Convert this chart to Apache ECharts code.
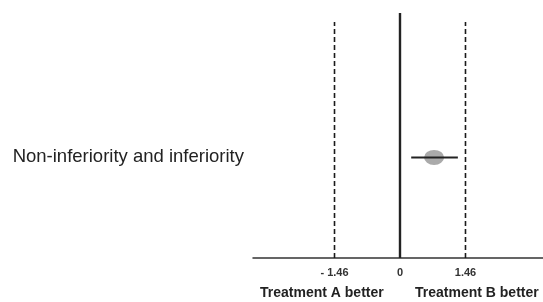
<!DOCTYPE html>
<html>
<head>
<meta charset="utf-8">
<script src="https://cdn.jsdelivr.net/npm/echarts@6/dist/echarts.min.js"></script>
<style>
  html, body { margin: 0; padding: 0; background: #fff; }
  #chart { width: 543px; height: 302px; }
</style>
</head>
<body>
<div id="chart"></div>
<script>
// comparison row
var rowName = "Non-inferiority and inferiority";
var rowY = 0.39;
var estimate = 0.76;
var ciLow = 0.25;
var ciHigh = 1.29;

// margins and ticks
var margins = [-1.46, 1.46];
var xTicks = [-1.46, 0, 1.46];
var sideLabels = ["Treatment A better", "Treatment B better"];

var chart = echarts.init(document.getElementById("chart"));

var marginSeries = margins.map(function (m) {
  return {
    type: "line",
    symbol: "none",
    silent: true,
    lineStyle: { color: "#1a1a1a", width: 1.6, type: [5, 3] },
    data: [[m, 0], [m, 0.915]]
  };
});

chart.setOption({
  animation: false,
  grid: { left: 253, right: 0, top: 0, bottom: 44 },
  xAxis: {
    type: "value",
    min: -3.277,
    max: 3.188,
    splitLine: { show: false },
    axisLine: { lineStyle: { color: "#333", width: 1.5 } },
    axisTick: { show: false },
    axisLabel: {
      customValues: xTicks,
      margin: 9,
      color: "#333",
      fontSize: 11,
      fontWeight: "bold",
      fontFamily: "Liberation Sans",
      formatter: function (v) {
        return v < 0 ? "- " + Math.abs(v).toFixed(2) : (v === 0 ? "0" : v.toFixed(2));
      }
    }
  },
  yAxis: {
    type: "value",
    min: 0,
    max: 1,
    splitLine: { show: false },
    axisLine: { show: false },
    axisTick: { show: false },
    axisLabel: {
      customValues: [rowY],
      margin: 9,
      color: "#222",
      fontSize: 18.5,
      fontFamily: "Liberation Sans",
      formatter: function () { return rowName; }
    }
  },
  graphic: [
    {
      type: "text", left: 260, top: 286,
      style: { text: sideLabels[0], fill: "#222", font: "bold 14px 'Liberation Sans'" }
    },
    {
      type: "text", left: 415, top: 286,
      style: { text: sideLabels[1], fill: "#222", font: "bold 14px 'Liberation Sans'" }
    }
  ],
  series: marginSeries.concat([
    {
      type: "line",
      symbol: "none",
      silent: true,
      lineStyle: { color: "#222", width: 2.4 },
      data: [[0, 0], [0, 0.95]]
    },
    {
      type: "line",
      symbol: "none",
      silent: true,
      lineStyle: { color: "#222", width: 2 },
      data: [[ciLow, rowY], [ciHigh, rowY]]
    },
    {
      type: "scatter",
      symbol: "circle",
      symbolSize: [20, 15],
      silent: true,
      itemStyle: { color: "#aaa", opacity: 1 },
      data: [[estimate, rowY]]
    }
  ])
});
</script>
</body>
</html>
